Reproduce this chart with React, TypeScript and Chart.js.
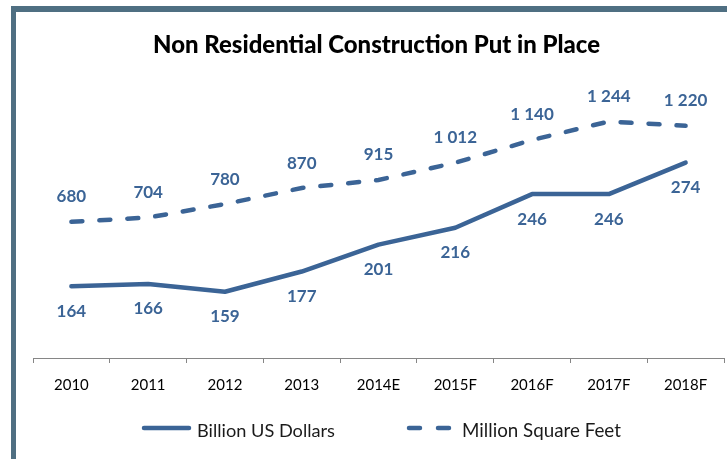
import React, { useEffect, useRef } from "react";
import { Chart, registerables } from "chart.js";

Chart.register(...registerables);

const categories = ["2010", "2011", "2012", "2013", "2014E", "2015F", "2016F", "2017F", "2018F"];
const billionUsd = [164, 166, 159, 177, 201, 216, 246, 246, 274];
const millionSqFt = [680, 704, 780, 870, 915, 1012, 1140, 1244, 1220];
const seriesNames = ["Billion US Dollars", "Million Square Feet"];
const titleText = "Non Residential Construction Put in Place";

const BLUE = "#3b6496";
const FONT = "Lato, 'Open Sans', sans-serif";

function fmt(v: number): string {
  const s = String(Math.round(v));
  return s.replace(/\B(?=(\d{3})+(?!\d))/g, " ");
}

function fitFont(ctx: CanvasRenderingContext2D, text: string, width: number, weight: string): string {
  let size = 20;
  ctx.font = `${weight} ${size}px ${FONT}`;
  const w = ctx.measureText(text).width;
  size = (size * width) / w;
  return `${weight} ${size.toFixed(2)}px ${FONT}`;
}

const overlayPlugin = {
  id: "overlay",
  afterDatasetsDraw(chart: any) {
    const ctx: CanvasRenderingContext2D = chart.ctx;
    ctx.save();
    // data labels
    ctx.font = `bold 17px ${FONT}`;
    ctx.fillStyle = BLUE;
    ctx.textAlign = "center";
    ctx.textBaseline = "middle";
    chart.data.datasets.forEach((ds: any, i: number) => {
      const meta = chart.getDatasetMeta(i);
      meta.data.forEach((pt: any, j: number) => {
        const off = i === 0 ? 25 : -25;
        ctx.fillText(fmt(ds.data[j]), pt.x, pt.y + off);
      });
    });
    // title
    ctx.fillStyle = "#000";
    ctx.textBaseline = "alphabetic";
    ctx.font = fitFont(ctx, titleText, 447, "900");
    ctx.fillText(titleText, 376.5, 53);
    // legend
    ctx.strokeStyle = BLUE;
    ctx.lineWidth = 4.5;
    ctx.lineCap = "round";
    ctx.beginPath();
    ctx.moveTo(144, 428);
    ctx.lineTo(189, 428);
    ctx.stroke();
    ctx.setLineDash([11, 18]);
    ctx.beginPath();
    ctx.moveTo(409, 428);
    ctx.lineTo(452, 428);
    ctx.stroke();
    ctx.setLineDash([]);
    ctx.fillStyle = "#1a1a1a";
    ctx.textAlign = "left";
    ctx.font = fitFont(ctx, seriesNames[0], 138, "normal");
    ctx.fillText(seriesNames[0], 197, 436.5);
    ctx.font = fitFont(ctx, seriesNames[1], 159, "normal");
    ctx.fillText(seriesNames[1], 462, 436.5);
    ctx.restore();
  },
};

export default function App() {
  const ref = useRef<HTMLCanvasElement | null>(null);
  useEffect(() => {
    if (!ref.current) return;
    const chart = new Chart(ref.current, {
      type: "line",
      data: {
        labels: categories,
        datasets: [
          {
            label: seriesNames[0],
            data: billionUsd,
            yAxisID: "y",
            borderColor: BLUE,
            borderWidth: 4.5,
            pointRadius: 0,
            fill: false,
            tension: 0,
            borderCapStyle: "round",
            borderJoinStyle: "round",
          },
          {
            label: seriesNames[1],
            data: millionSqFt,
            yAxisID: "y2",
            borderColor: BLUE,
            borderWidth: 4.5,
            borderDash: [11, 17],
            borderCapStyle: "round",
            pointRadius: 0,
            fill: false,
            tension: 0,
          },
        ],
      },
      options: {
        animation: false,
        responsive: false,
        maintainAspectRatio: false,
        layout: { padding: { left: 33, right: 3, top: 90, bottom: 52 } },
        plugins: { legend: { display: false }, title: { display: false }, tooltip: { enabled: false } },
        scales: {
          x: {
            offset: true,
            grid: { display: true, drawOnChartArea: false, tickLength: 5, color: "#868686", offset: true },
            border: { display: true, color: "#868686", width: 1 },
            ticks: { color: "#000", font: { family: FONT, size: 15 }, padding: 13, maxRotation: 0, autoSkip: false },
          },
          y: { display: false, min: 100, max: 338.7 },
          y2: { display: false, min: -85.5, max: 1421 },
        },
      },
      plugins: [overlayPlugin],
    });
    return () => chart.destroy();
  }, []);
  return (
    <div style={{ position: "fixed", left: 0, top: 0, width: 727, height: 459, background: "#fff", overflow: "hidden" }}>
      <div
        style={{
          position: "absolute",
          left: 11,
          top: 6,
          width: 727,
          height: 470,
          borderLeft: "5px solid #4f6f82",
          borderTop: "6px solid #4f6f82",
        }}
      />
      <canvas ref={ref} width={727} height={459} style={{ position: "absolute", left: 0, top: 0 }} />
    </div>
  );
}
